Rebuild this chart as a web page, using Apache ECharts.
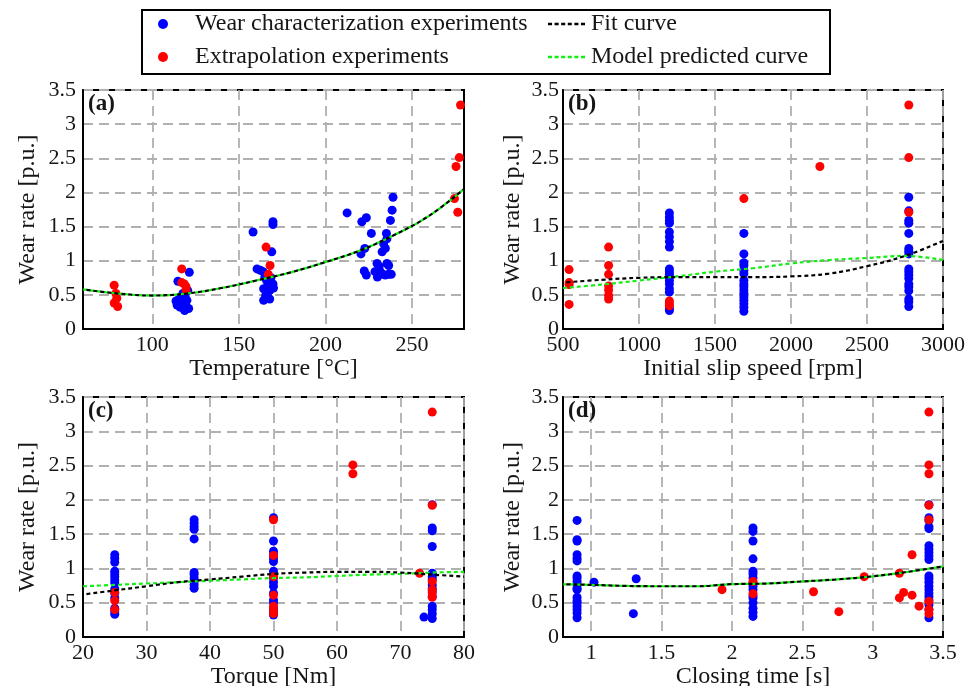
<!DOCTYPE html>
<html><head><meta charset="utf-8">
<script src="https://cdn.jsdelivr.net/npm/echarts@6/dist/echarts.min.js"></script>
<style>html,body{margin:0;padding:0;background:#fff}#c{width:973px;height:686px}</style>
</head><body><div id="c"></div>
<script>
// ---------- Panel (a): Temperature ----------
const aBlue = [[114.8,0.70],[121.4,0.83],[113.7,0.41],[114.3,0.35],[116,0.32],[118.7,0.27],[120,0.42],[117.7,0.52],[116.5,0.38],[118.5,0.36],[119.5,0.33],[121,0.30],[115.5,0.44],[119,0.47],[120.5,0.56],
  [158.2,1.42],[169.7,1.57],[169.7,1.53],[169,1.13],[160.5,0.88],[162.4,0.86],[164,0.84],[165,0.76],[166,0.71],[169.7,0.66],[164.3,0.59],[168,0.57],[170,0.60],[164.3,0.42],[167.8,0.44],[166.5,0.52],[168.5,0.75],[167,0.65],[165.5,0.49],
  [212.5,1.70],[221,1.57],[223.6,1.63],[226.5,1.40],[222.7,1.18],[220.5,1.10],[222.4,0.85],[223.6,0.79],[229.8,0.96],[231,0.92],[228.6,0.84],[230,0.76],[231.7,0.84],[233,0.80],[234.6,0.79],[236.5,0.80],[238,0.80],[235.5,0.96],[236.5,0.93],[235.2,1.40],[235.5,1.32],[233.6,1.25],[234.6,1.18],[232.7,1.13],[237.5,1.59],[238.5,1.74],[239,1.93]];
const aRed = [[78,0.64],[79,0.52],[79.5,0.45],[78,0.38],[80,0.33],[117,0.88],[117,0.68],[118.5,0.66],[119.5,0.62],[119.5,0.57],[165.7,1.20],[168,0.93],[167,0.80],[278,3.28],[277.3,2.51],[275.4,2.38],[274.5,1.91],[276.4,1.71]];
const aCurveX = [60,80,100,120,140,160,180,200,220,240,260,280];
const aFitY   = [0.58,0.52,0.49,0.52,0.60,0.71,0.83,0.98,1.15,1.38,1.66,2.05];
const aModelY = [0.58,0.52,0.49,0.52,0.60,0.71,0.83,0.98,1.15,1.38,1.66,2.05];
const aTicks = [100,150,200,250];

// ---------- Panel (b): Initial slip speed ----------
const bBlue1200 = [1.70,1.64,1.59,1.55,1.42,1.35,1.28,1.20,0.88,0.84,0.80,0.76,0.71,0.66,0.59,0.54,0.30,0.27];
const bBlue1690 = [1.40,1.10,0.97,0.93,0.86,0.81,0.71,0.66,0.62,0.57,0.52,0.47,0.42,0.37,0.32,0.26];
const bBlue2775 = [1.93,1.73,1.59,1.55,1.40,1.18,1.14,1.10,0.88,0.84,0.79,0.74,0.66,0.62,0.56,0.44,0.40,0.33];
const bRed = [[540,0.87],[540,0.68],[540,0.65],[540,0.36],[800,1.20],[800,0.93],[800,0.80],[800,0.63],[800,0.57],[800,0.49],[800,0.44],[1200,0.41],[1200,0.37],[1200,0.34],[1690,1.91],[2190,2.38],[2775,3.28],[2775,2.51],[2775,1.71]];
const bCurveX = [500,750,1000,1250,1500,1750,2000,2250,2500,2750,3000];
const bFitY   = [0.68,0.72,0.75,0.76,0.76,0.76,0.77,0.81,0.92,1.07,1.29];
const bModelY = [0.60,0.65,0.71,0.77,0.84,0.89,0.96,1.01,1.04,1.07,1.01];

// ---------- Panel (c): Torque ----------
const cBlue25 = [1.20,1.15,1.09,0.96,0.92,0.88,0.83,0.79,0.70,0.64,0.57,0.42,0.37,0.33];
const cBlue375 = [1.71,1.66,1.61,1.57,1.43,0.94,0.91,0.86,0.81,0.76,0.71];
const cBlue50 = [1.74,1.40,1.25,1.20,1.15,1.10,0.96,0.91,0.86,0.80,0.74,0.64,0.54,0.50,0.42,0.37,0.32];
const cBlue75 = [1.93,1.59,1.55,1.32,0.93,0.88,0.84,0.76,0.71,0.67,0.59,0.45,0.40,0.34,0.27];
const cBlueOther = [[73.7,0.29]];
const cRed = [[25,0.65],[25,0.53],[25,0.40],[50,1.71],[50,1.19],[50,0.88],[50,0.61],[50,0.45],[50,0.40],[50,0.34],[62.5,2.51],[62.5,2.38],[73,0.93],[75,3.28],[75,1.92],[75,0.81],[75,0.69],[75,0.64],[75,0.58]];
const cCurveX = [20,25,30,35,40,45,50,55,60,65,70,75,80];
const cFitY   = [0.62,0.68,0.74,0.80,0.84,0.88,0.92,0.94,0.95,0.95,0.94,0.91,0.88];
const cModelY = [0.74,0.76,0.78,0.80,0.82,0.84,0.86,0.87,0.89,0.91,0.92,0.94,0.95];

// ---------- Panel (d): Closing time ----------
const dBlue09 = [1.70,1.42,1.40,1.20,1.15,1.11,0.89,0.86,0.81,0.76,0.71,0.69,0.58,0.53,0.50,0.45,0.40,0.35,0.28];
const dBlue215 = [1.59,1.54,1.40,1.14,0.96,0.92,0.86,0.79,0.74,0.69,0.60,0.57,0.50,0.42,0.36,0.30];
const dBlue34 = [1.93,1.74,1.70,1.61,1.58,1.33,1.28,1.23,1.18,1.13,0.89,0.85,0.80,0.74,0.69,0.64,0.59,0.54,0.47,0.40,0.28];
const dBlueOther = [[1.02,0.80],[1.32,0.85],[1.30,0.34]];
const dRed = [[1.93,0.69],[2.15,0.81],[2.15,0.63],[2.58,0.66],[2.76,0.37],[2.94,0.88],[3.19,0.93],[3.19,0.57],[3.22,0.65],[3.28,1.20],[3.28,0.61],[3.33,0.45],[3.4,3.28],[3.4,2.51],[3.4,2.38],[3.4,1.92],[3.4,1.71],[3.4,0.52],[3.4,0.40],[3.4,0.34]];
const dCurveX = [0.8,1.0,1.25,1.5,1.75,2.0,2.25,2.5,2.75,3.0,3.25,3.5];
const dFitY   = [0.77,0.76,0.745,0.74,0.74,0.77,0.78,0.81,0.84,0.885,0.95,1.03];
const dModelY = [0.77,0.76,0.745,0.74,0.74,0.77,0.78,0.81,0.84,0.885,0.95,1.03];
const dTicks = [1,1.5,2,2.5,3,3.5];

const N_BLUE = 'Wear characterization experiments';
const N_RED = 'Extrapolation experiments';
const N_FIT = 'Fit curve';
const N_MODEL = 'Model predicted curve';
const FONT = '"Liberation Serif", "Times New Roman", serif';
const TXT = '#161616';
const DASH_ICON = 'path://M0,0L4,0L4,2.5L0,2.5ZM6.5,0L10.5,0L10.5,2.5L6.5,2.5ZM13,0L17,0L17,2.5L13,2.5ZM19.5,0L23.5,0L23.5,2.5L19.5,2.5ZM26,0L30,0L30,2.5L26,2.5ZM32.5,0L36.5,0L36.5,2.5L32.5,2.5Z';

function col(x, ys) { return ys.map(y => [x, y]); }
function pairs(xs, ys) { return xs.map((x, i) => [x, ys[i]]); }
function plain(v) { return String(+v.toFixed(6)); }

const panels = [
  { grid: {left:83, top:90, width:381, height:239}, xname:'Temperature [\u00B0C]', xmin:60, xmax:280, xcustom:aTicks,
    blue:aBlue, red:aRed, fit:pairs(aCurveX,aFitY), model:pairs(aCurveX,aModelY), label:'(a)', ymargin:7, ynameGap:43, xnameGap:26 },
  { grid: {left:563, top:90, width:380, height:239}, xname:'Initial slip speed [rpm]', xmin:500, xmax:3000, xint:500,
    blue:[].concat(col(1200,bBlue1200), col(1690,bBlue1690), col(2775,bBlue2775)), red:bRed,
    fit:pairs(bCurveX,bFitY), model:pairs(bCurveX,bModelY), label:'(b)', ymargin:4, ynameGap:38, xnameGap:26 },
  { grid: {left:83, top:397, width:381, height:240}, xname:'Torque [Nm]', xmin:20, xmax:80, xint:10,
    blue:[].concat(col(25,cBlue25), col(37.5,cBlue375), col(50,cBlue50), col(75,cBlue75), cBlueOther), red:cRed,
    fit:pairs(cCurveX,cFitY), model:pairs(cCurveX,cModelY), label:'(c)', ymargin:7, ynameGap:43, xnameGap:24 },
  { grid: {left:563, top:397, width:380, height:240}, xname:'Closing time [s]', xmin:0.8, xmax:3.5, xcustom:dTicks,
    blue:[].concat(col(0.9,dBlue09), col(2.15,dBlue215), col(3.4,dBlue34), dBlueOther), red:dRed,
    fit:pairs(dCurveX,dFitY), model:pairs(dCurveX,dModelY), label:'(d)', ymargin:4, ynameGap:38, xnameGap:24 }
];

const splitLine = { show:true, lineStyle:{ color:'#b0b0b0', width:1.8, type:[10,6] } };
const option = {
  animation:false,
  backgroundColor:'#fff',
  grid:[], xAxis:[], yAxis:[], series:[], title:[],
  legend:[
    { data:[{name:N_BLUE, icon:'circle'}, {name:N_RED, icon:'circle'}], orient:'vertical', left:158, top:11, padding:0,
      itemWidth:10, itemHeight:10, itemGap:7, selectedMode:false, itemStyle:{opacity:1},
      textStyle:{fontFamily:FONT, fontSize:24, color:TXT, lineHeight:26, padding:[0,0,0,22]} },
    { data:[{name:N_FIT, icon:DASH_ICON, itemStyle:{color:'#000'}}, {name:N_MODEL, icon:DASH_ICON, itemStyle:{color:'#11ee11'}}],
      orient:'vertical', left:548, top:11, padding:0, itemWidth:37, itemHeight:3, itemGap:7, selectedMode:false,
      textStyle:{fontFamily:FONT, fontSize:24, color:TXT, lineHeight:26, padding:[0,0,0,1]} }
  ],
  graphic:[
    { type:'rect', left:141, top:9, shape:{width:688, height:64}, style:{fill:'#fff', stroke:'#000', lineWidth:2}, z:0 }
  ]
};

panels.forEach((p, i) => {
  option.grid.push(Object.assign({ show:true, borderColor:'#000', borderWidth:2, containLabel:false, outerBoundsMode:'none' }, p.grid));
  const xa = { type:'value', gridIndex:i, min:p.xmin, max:p.xmax, name:p.xname, nameLocation:'middle', nameGap:p.xnameGap,
    nameTextStyle:{fontFamily:FONT, fontSize:24, color:TXT},
    axisLine:{show:true, lineStyle:{color:'#000', width:2}}, axisTick:{show:false},
    axisLabel:{fontFamily:FONT, fontSize:22, color:TXT, margin:5, showMinLabel:true, showMaxLabel:true, formatter:plain},
    splitLine:splitLine };
  if (p.xint) xa.interval = p.xint;
  if (p.xcustom) { xa.axisLabel.customValues = p.xcustom; xa.axisTick.customValues = p.xcustom; }
  option.xAxis.push(xa);
  option.yAxis.push({ type:'value', gridIndex:i, min:0, max:3.5, interval:0.5, name:'Wear rate [p.u.]', nameLocation:'middle', nameGap:p.ynameGap,
    nameTextStyle:{fontFamily:FONT, fontSize:24, color:TXT},
    axisLine:{show:true, lineStyle:{color:'#000', width:2}}, axisTick:{show:false},
    axisLabel:{fontFamily:FONT, fontSize:22, color:TXT, margin:p.ymargin, formatter:plain},
    splitLine:splitLine });
  option.series.push(
    { name:N_BLUE, type:'scatter', xAxisIndex:i, yAxisIndex:i, data:p.blue, symbolSize:9, itemStyle:{color:'#0000ff', opacity:1}, z:2 },
    { name:N_RED, type:'scatter', xAxisIndex:i, yAxisIndex:i, data:p.red, symbolSize:9, itemStyle:{color:'#ff0000', opacity:1}, z:3 },
    { name:N_MODEL, type:'line', xAxisIndex:i, yAxisIndex:i, data:p.model, symbol:'none', smooth:0.4,
      lineStyle:{color:'#11ee11', width:2.2, type:[4,3]}, itemStyle:{color:'#11ee11'}, z:4 },
    { name:N_FIT, type:'line', xAxisIndex:i, yAxisIndex:i, data:p.fit, symbol:'none', smooth:0.4,
      lineStyle:{color:'#000', width:2.2, type:[4,3], dashOffset:3.5}, itemStyle:{color:'#000'}, z:5 }
  );
  option.title.push({ text:p.label, left:p.grid.left + 5, top:p.grid.top + 3, padding:0,
    textStyle:{fontFamily:FONT, fontSize:23, fontWeight:'bold', color:TXT} });
});

const chart = echarts.init(document.getElementById('c'), null, {renderer:'canvas'});
chart.setOption(option);
</script></body></html>
